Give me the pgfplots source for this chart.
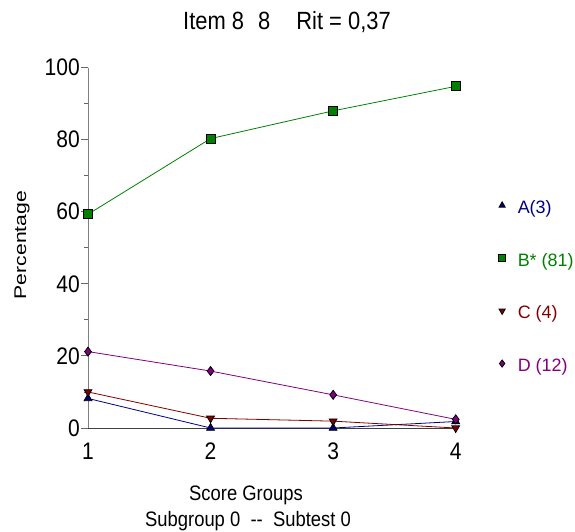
\documentclass[border=0pt]{standalone}
\usepackage{fontspec}
\setmainfont{Liberation Sans}[FakeStretch=0.88]
\newfontfamily\legfont{Liberation Sans}
\newfontfamily\rotfont{Liberation Sans}[FakeStretch=1.25]
\usepackage{pgfplots}
\pgfplotsset{compat=1.18}
\definecolor{cA}{RGB}{0,0,128}
\definecolor{cB}{RGB}{0,128,0}
\definecolor{cC}{RGB}{128,0,0}
\definecolor{cD}{RGB}{128,0,128}
\begin{document}
\begin{tikzpicture}
\path[use as bounding box] (-88bp,-104bp) rectangle (487bp,428bp);
\begin{axis}[
  scale only axis, width=367.7bp, height=360.4bp,
  xmin=1, xmax=4, ymin=0, ymax=100,
  clip=false,
  axis x line=bottom, axis y line=left,
  axis line style={-, line width=0.9bp},
  x axis line style={black!75},
  y axis line style={black!50},
  xtick={1,2,3,4}, ytick={0,20,40,60,80,100},
  minor y tick num=1,
  tick align=outside,
  major tick length=7bp, minor tick length=4bp,
  xtick style={draw=none},
  ytick style={black!60, line width=0.9bp},
  /pgf/number format/assume math mode=true,
  yticklabel style={font=\fontsize{24}{24}\selectfont, inner sep=1bp},
  xticklabel style={font=\fontsize{24}{24}\selectfont, inner sep=0bp, yshift=-8bp},
  every axis plot/.append style={line width=0.8bp},
  legend style={draw=none, fill=none, at={(1.116,0.632)}, anchor=north west,
    inner sep=0pt, row sep=35.7bp, column sep=12bp,
    font=\legfont\fontsize{18}{18}\selectfont,
    nodes={inner sep=0pt, text height=13bp, text depth=4bp}},
  legend cell align=left,
  legend image code/.code={\draw[#1, mark size=3.6bp] plot coordinates {(0bp,3.5bp)};},
]
\addplot[cA, mark=triangle*, mark size=4.5bp, mark options={draw=black, fill=cA}]
  coordinates {(1,8.2) (2,0) (3,0) (4,1.8)};
\addlegendentry[text=cA]{A(3)}
\addplot[cB, mark=square*, mark size=4.5bp, mark options={draw=black, fill=cB}]
  coordinates {(1,59.3) (2,80.3) (3,88.0) (4,94.8)};
\addlegendentry[text=cB]{B* (81)}
\addplot[cC, mark=triangle*, mark size=4.5bp, mark options={draw=black, fill=cC, rotate=180}]
  coordinates {(1,10.0) (2,2.7) (3,1.9) (4,0)};
\addlegendentry[text=cC]{C (4)}
\addplot[cD, mark=diamond*, mark size=4.5bp, mark options={draw=black, fill=cD}]
  coordinates {(1,21.2) (2,15.8) (3,9.2) (4,2.4)};
\addlegendentry[text=cD]{D (12)}
\end{axis}
\node[font=\fontsize{25}{25}\selectfont] at (199bp,406bp) {Item 8\hspace{14bp}8\hspace{26bp}Rit = 0,37};
\node[font=\fontsize{21}{21}\selectfont] at (158bp,-67bp) {Score Groups};
\node[font=\fontsize{21}{21}\selectfont] at (160bp,-93bp) {Subgroup 0 \ -{}- \ Subtest 0};
\node[font=\rotfont\fontsize{17}{17}\selectfont, rotate=90] at (-66bp,183bp) {Percentage};
\end{tikzpicture}
\end{document}
